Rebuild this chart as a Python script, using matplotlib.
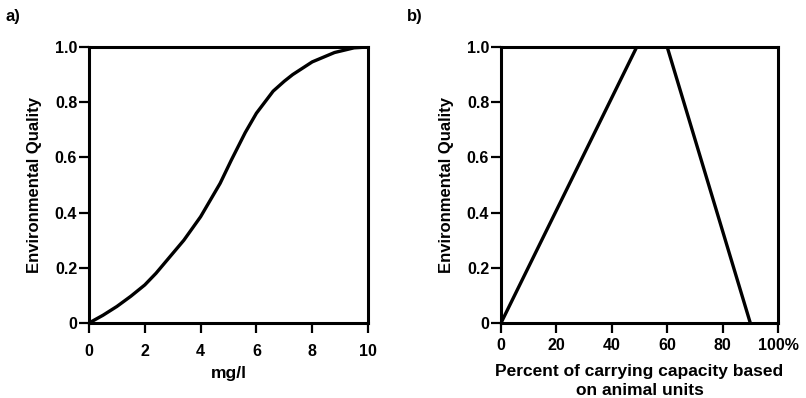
import matplotlib
matplotlib.use('Agg')
import matplotlib.pyplot as plt

plt.rcParams['font.family'] = ['Liberation Sans', 'DejaVu Sans']
plt.rcParams['font.weight'] = 'bold'

# panel a: sigmoid quality curve
conc = [0, 0.5, 1, 1.5, 2, 2.4, 2.8, 3.4, 4.0, 4.7, 5.1, 5.6, 6.0, 6.3, 6.6, 7.0, 7.3, 8.0, 8.8, 9.5, 10]
quality_a = [0, 0.028, 0.06, 0.097, 0.138, 0.18, 0.228, 0.30, 0.385, 0.506, 0.59, 0.69, 0.76, 0.80, 0.84, 0.876, 0.90, 0.946, 0.98, 0.997, 1.0]

# panel b: triangular response to carrying capacity
capacity = [0, 49, 60, 90]
quality_b = [0, 1, 1, 0]

y_ticks = [0, 0.2, 0.4, 0.6, 0.8, 1.0]
y_labels = ['0', '0.2', '0.4', '0.6', '0.8', '1.0']
xa_ticks = [0, 2, 4, 6, 8, 10]
xb_ticks = [0, 20, 40, 60, 80, 100]
xb_labels = ['0', '20', '40', '60', '80', '100%']

fig = plt.figure(figsize=(8.06, 3.98), dpi=100)
ax1 = fig.add_axes([89/806, 1-323/398, 279/806, 276/398])
ax2 = fig.add_axes([501/806, 1-323/398, 277/806, 276/398])

ax1.plot(conc, quality_a, color='black', lw=2.4, solid_joinstyle='round')
ax2.plot(capacity, quality_b, color='black', lw=2.4)

for ax in (ax1, ax2):
    ax.set_ylim(0, 1)
    ax.set_yticks(y_ticks)
    ax.set_yticklabels(y_labels)
    for s in ax.spines.values():
        s.set_linewidth(2.2)
    ax.tick_params(direction='out', length=7, width=1.6, labelsize=11.5)
    ax.tick_params(axis='y', pad=1.5)
    ax.set_ylabel('Environmental Quality', fontsize=12, fontweight='bold', labelpad=9)

ax1.tick_params(axis='x', pad=8)
ax2.tick_params(axis='x', pad=3.5)

ax1.set_xlim(0, 10)
ax1.set_xticks(xa_ticks)
ax1.set_xlabel('mg/l', fontsize=12.5, fontweight='bold', labelpad=5)

ax2.set_xlim(0, 100)
ax2.set_xticks(xb_ticks)
ax2.set_xticklabels(xb_labels)
ax2.set_xlabel('Percent of carrying capacity based\non animal units', fontsize=12.5,
               fontweight='bold', labelpad=8, linespacing=1.4)

for ax in (ax1, ax2):
    for lab in ax.get_xticklabels() + ax.get_yticklabels():
        lab.set_fontweight('bold')

fig.text(5/806, 1-17/398, 'a)', fontsize=12, fontweight='bold', va='center')
fig.text(407/806, 1-17/398, 'b)', fontsize=12, fontweight='bold', va='center')

fig.savefig('out.png', dpi=100)
